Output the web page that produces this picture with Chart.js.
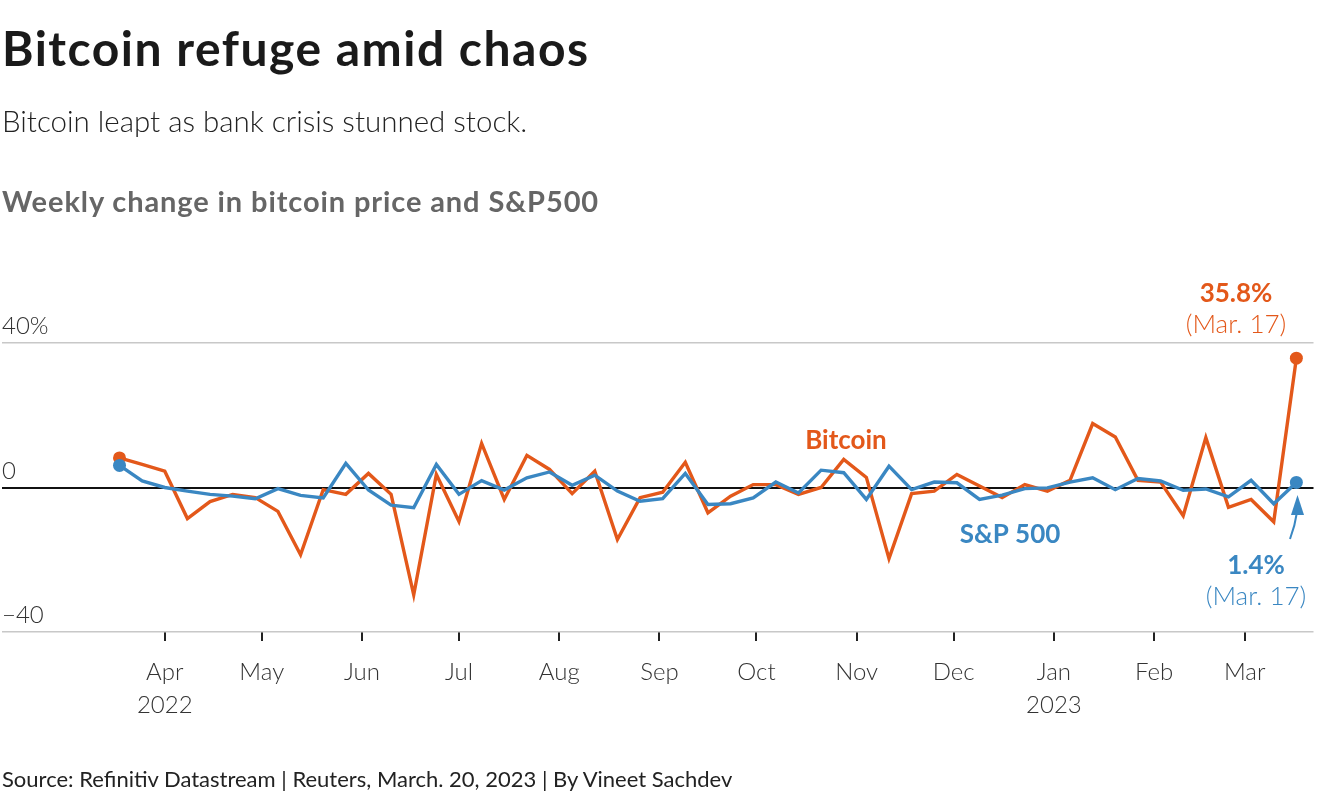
<!DOCTYPE html>
<html>
<head>
<meta charset="utf-8">
<script src="https://cdn.jsdelivr.net/npm/chart.js@4"></script>
<style>
  body { margin: 0; background: #fff; font-family: Lato, sans-serif; overflow: hidden; }
  #wrap { position: relative; width: 1320px; height: 800px; overflow: hidden; }
  canvas { position: absolute; left: -5px; top: 0; }
  .t { position: absolute; left: 2px; line-height: 1; white-space: nowrap; }
</style>
</head>
<body>
<div id="wrap">
  <canvas id="chart" width="1325" height="800"></canvas>
  <div class="t" style="top:24px;font-size:48px;font-weight:700;letter-spacing:1.5px;color:#1a1a1a">Bitcoin refuge amid chaos</div>
  <div class="t" style="top:106px;font-size:29.5px;font-weight:300;color:#222">Bitcoin leapt as bank crisis stunned stock.</div>
  <div class="t" style="top:186px;font-size:29px;font-weight:700;letter-spacing:0.9px;color:#666">Weekly change in bitcoin price and S&amp;P500</div>
  <div class="t" style="top:768px;font-size:22px;font-weight:400;color:#222">Source: Refinitiv Datastream | Reuters, March. 20, 2023 | By Vineet Sachdev</div>
</div>
<script>
// weekly closes (Fridays)
let weeks = [
  "2022-03-18", "2022-03-25", "2022-04-01", "2022-04-08", "2022-04-15", "2022-04-22", "2022-04-29",
  "2022-05-06", "2022-05-13", "2022-05-20", "2022-05-27", "2022-06-03", "2022-06-10", "2022-06-17",
  "2022-06-24", "2022-07-01", "2022-07-08", "2022-07-15", "2022-07-22", "2022-07-29", "2022-08-05",
  "2022-08-12", "2022-08-19", "2022-08-26", "2022-09-02", "2022-09-09", "2022-09-16", "2022-09-23",
  "2022-09-30", "2022-10-07", "2022-10-14", "2022-10-21", "2022-10-28", "2022-11-04", "2022-11-11",
  "2022-11-18", "2022-11-25", "2022-12-02", "2022-12-09", "2022-12-16", "2022-12-23", "2022-12-30",
  "2023-01-06", "2023-01-13", "2023-01-20", "2023-01-27", "2023-02-03", "2023-02-10", "2023-02-17",
  "2023-02-24", "2023-03-03", "2023-03-10", "2023-03-17"
];
let bitcoin = [
  8.2, 6.4, 4.5, -8.6, -3.9, -1.9, -2.8, -6.6, -18.6, -0.6, -1.9, 3.9, -1.9, -29.7,
  3.6, -9.4, 12.2, -3.3, 8.9, 5.0, -1.7, 4.5, -14.4, -2.8, -1.3, 7.0, -7.0, -2.4,
  0.8, 0.8, -1.9, 0.0, 7.8, 2.8, -19.7, -1.7, -1.0, 3.6, 0.4, -2.8, 0.8, -1.0,
  2.0, 17.7, 14.0, 2.0, 1.5, -7.8, 13.8, -5.5, -3.3, -9.5, 35.8
];
let sp500 = [
  6.1, 1.8, 0.0, -1.0, -1.9, -2.4, -3.1, -0.3, -2.2, -2.9, 6.7, -0.7, -4.9, -5.6,
  6.4, -1.9, 1.9, -0.7, 2.7, 4.3, 0.6, 3.4, -1.0, -3.8, -3.1, 3.9, -4.7, -4.5,
  -2.9, 1.5, -1.5, 4.8, 4.1, -3.3, 5.9, -0.6, 1.5, 1.3, -3.3, -2.1, -0.3, -0.1,
  1.5, 2.7, -0.6, 2.5, 1.8, -0.8, -0.4, -2.6, 2.0, -4.5, 1.4
];
let monthTicks = ["2022-04-01", "2022-05-01", "2022-06-01", "2022-07-01", "2022-08-01", "2022-09-01",
  "2022-10-01", "2022-11-01", "2022-12-01", "2023-01-01", "2023-02-01", "2023-03-01"];
let monthLabels = [["Apr", "2022"], "May", "Jun", "Jul", "Aug", "Sep", "Oct", "Nov", "Dec", ["Jan", "2023"], "Feb", "Mar"];
let yTicks = [-40, 0, 40];
let yLabels = ["\u221240", "0", "40%"];

const ORANGE = "#e3581a";
const BLUE = "#3a87c2";
const FONT = "Lato, sans-serif";
const SHIFT = 5; // canvas sits 5px left of the page

const toDay = d => Date.parse(d) / 864e5;
const first = toDay(weeks[0]);
const last = weeks.length - 1;

function points(values) {
  return weeks.map((w, i) => ({ x: toDay(w), y: values[i] }));
}
const endDots = c => (c.dataIndex === 0 || c.dataIndex === last) ? 6.5 : 0;

function txt(ctx, s, x, y, size, weight, color, align) {
  ctx.font = weight + " " + size + "px " + FONT;
  ctx.fillStyle = color;
  ctx.textAlign = align || "center";
  ctx.textBaseline = "alphabetic";
  ctx.fillText(s, x, y);
}

const labels = {
  id: "labels",
  afterDatasetsDraw(chart) {
    let ctx = chart.ctx;
    let y = chart.scales.y;
    ctx.save();
    ctx.translate(SHIFT, 0);
    yTicks.forEach((v, i) => txt(ctx, yLabels[i], 2, y.getPixelForValue(v) - 9, 24, 300, "#333", "left"));

    txt(ctx, "35.8%", 1236, 302, 26, 700, ORANGE);
    txt(ctx, "(Mar. 17)", 1236, 333, 26, 300, ORANGE);
    txt(ctx, "Bitcoin", 846, 449, 26, 700, ORANGE);
    txt(ctx, "S&P 500", 1010, 543, 26, 700, BLUE);
    txt(ctx, "1.4%", 1256, 574, 26, 700, BLUE);
    txt(ctx, "(Mar. 17)", 1256, 605, 26, 300, BLUE);

    // arrow pointing to last S&P value
    ctx.strokeStyle = BLUE;
    ctx.fillStyle = BLUE;
    ctx.lineWidth = 2;
    ctx.beginPath();
    ctx.moveTo(1290, 539);
    ctx.quadraticCurveTo(1295, 526, 1297, 512);
    ctx.stroke();
    ctx.beginPath();
    ctx.moveTo(1297.5, 495);
    ctx.lineTo(1304, 515);
    ctx.lineTo(1291, 515);
    ctx.closePath();
    ctx.fill();
    ctx.restore();
  }
};

new Chart(document.getElementById("chart").getContext("2d"), {
  type: "line",
  data: {
    datasets: [{
      label: "S&P 500",
      data: points(sp500),
      borderColor: BLUE,
      backgroundColor: BLUE,
      borderWidth: 3.4,
      pointRadius: endDots,
      pointBorderWidth: 0,
      tension: 0
    }, {
      label: "Bitcoin",
      data: points(bitcoin),
      borderColor: ORANGE,
      backgroundColor: ORANGE,
      borderWidth: 3.4,
      pointRadius: endDots,
      pointBorderWidth: 0,
      tension: 0
    }]
  },
  options: {
    responsive: false,
    animation: false,
    layout: { padding: { top: 343, right: 5, left: 0, bottom: 0 } },
    plugins: { legend: { display: false }, tooltip: { enabled: false } },
    scales: {
      x: {
        type: "linear",
        min: first - 36.5,
        max: first + 369.3,
        afterBuildTicks: s => { s.ticks = monthTicks.map(d => ({ value: toDay(d) })); },
        afterFit: s => { s.height = 168; },
        border: { display: false },
        grid: { drawOnChartArea: false, drawTicks: true, tickLength: 9, color: "#222", lineWidth: 2 },
        ticks: {
          autoSkip: false,
          maxRotation: 0,
          padding: 14,
          color: "#333",
          font: { family: FONT, size: 24, weight: 300, lineHeight: 1.4 },
          callback: (v, i) => monthLabels[i]
        }
      },
      y: {
        min: -40,
        max: 40,
        afterBuildTicks: s => { s.ticks = yTicks.map(v => ({ value: v })); },
        afterFit: s => { s.width = 0; },
        border: { display: false },
        ticks: { display: false },
        grid: {
          drawTicks: false,
          color: c => c.tick.value === 0 ? "#111" : "#c8c8c8",
          lineWidth: c => c.tick.value === 0 ? 2 : 1.5
        }
      }
    }
  },
  plugins: [labels]
});
</script>
</body>
</html>
